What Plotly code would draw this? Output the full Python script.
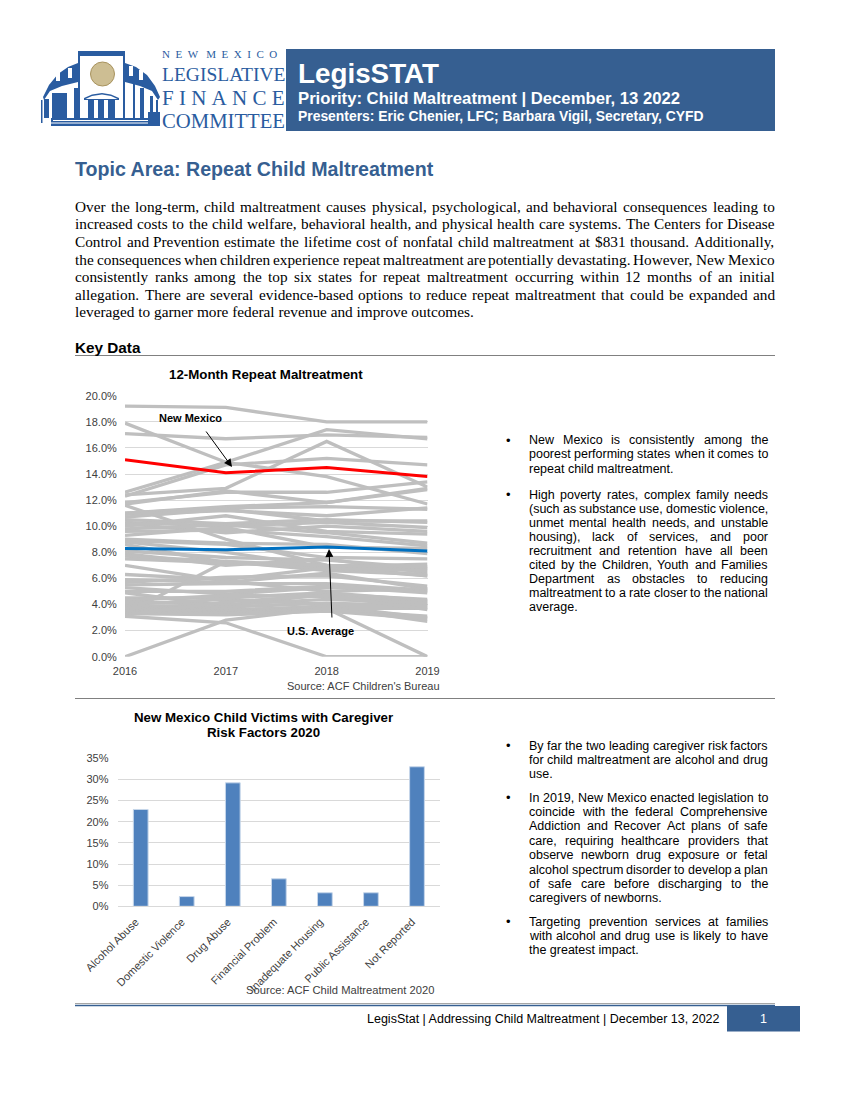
import plotly.graph_objects as go

W, H = 850, 1100
SANS = "Liberation Sans"
SERIF = "Liberation Serif"
BLUE = "#365F91"

# ---------- chart data ----------
YEARS = [2016, 2017, 2018, 2019]
NEW_MEXICO = [15.1, 14.1, 14.5, 13.8]
US_AVERAGE = [8.3, 8.2, 8.4, 8.1]
OTHER_2016 = [19.2, 17.9, 17.1, 12.6, 12.3, 12.4, 11.8, 11.7, 11.6, 11.0, 11.0, 10.9, 10.7, 10.5, 10.3, 10.2, 10.0, 9.8, 9.6, 9.3,
              9.0, 8.9, 8.8, 8.6, 8.1, 7.9, 7.7, 7.5, 7.0, 6.3, 5.9, 5.7, 5.5, 5.3, 5.0, 4.9, 4.5, 4.3, 4.2, 4.0,
              3.9, 3.8, 3.7, 3.6, 3.5, 3.4, 3.3, 3.3, 3.2, 3.1, 0.0]
OTHER_2017 = [19.1, 14.9, 16.7, 14.9, 14.7, 12.9, 12.6, 12.7, 9.0, 11.5, 11.4, 11.2, 11.3, 10.2, 10.0, 9.5, 10.8, 10.1, 9.7, 9.9,
              8.7, 8.6, 8.0, 7.2, 7.6, 7.0, 7.3, 7.2, 5.8, 5.9, 5.7, 6.1, 5.6, 4.8, 5.0, 3.9, 4.5, 4.7, 4.0, 4.4,
              3.8, 3.6, 3.5, 3.4, 3.3, 3.3, 3.2, 7.3, 4.2, 2.6, 2.8]
OTHER_2018 = [18.0, 13.8, 17.0, 17.4, 15.2, 16.5, 12.6, 11.8, 7.0, 11.8, 11.5, 10.8, 10.4, 10.5, 10.3, 10.0, 9.6, 9.5, 9.2, 8.4,
              8.6, 7.6, 6.9, 7.0, 7.4, 7.5, 6.6, 6.8, 5.0, 6.8, 6.4, 6.2, 5.6, 5.3, 5.4, 4.8, 4.9, 4.6, 4.4, 4.0,
              4.1, 3.8, 3.9, 3.7, 3.8, 3.6, 3.5, 7.0, 4.7, 0.0, 3.7]
OTHER_2019 = [18.0, 11.7, 16.8, 16.7, 14.7, 13.0, 13.4, 12.9, 6.2, 12.8, 11.3, 11.4, 10.4, 10.3, 9.9, 9.6, 9.4, 8.7, 8.5, 8.3,
              7.9, 7.5, 7.1, 6.7, 6.8, 6.4, 6.3, 6.2, 5.2, 6.6, 5.2, 5.4, 5.1, 5.0, 4.9, 4.4, 4.3, 4.2, 4.1, 4.0,
              3.9, 3.8, 3.0, 3.7, 2.7, 3.1, 2.9, 6.9, 3.6, 0.0, 0.0]
RISK_FACTORS = ["Alcohol Abuse", "Domestic Violence", "Drug Abuse", "Financial Problem",
                "Inadequate Housing", "Public Assistance", "Not Reported"]
RISK_VALUES = [22.9, 2.3, 29.2, 6.5, 3.2, 3.2, 33.0]

# ---------- page text ----------
BODY_LINES = [
    "Over the long-term, child maltreatment causes physical, psychological, and behavioral consequences leading to",
    "increased costs to the child welfare, behavioral health, and physical health care systems. The Centers for Disease",
    "Control and Prevention estimate the lifetime cost of nonfatal child maltreatment at $831 thousand. Additionally,",
    "the consequences when children experience repeat maltreatment are potentially devastating. However, New Mexico",
    "consistently ranks among the top six states for repeat maltreatment occurring within 12 months of an initial",
    "allegation. There are several evidence-based options to reduce repeat maltreatment that could be expanded and",
]
BODY_LAST = "leveraged to garner more federal revenue and improve outcomes."
BULLETS = [
    (440, 14.3, ["New Mexico is consistently among the", "poorest performing states when it comes to", "repeat child maltreatment."]),
    (495, 14.0, ["High poverty rates, complex family needs", "(such as substance use, domestic violence,",
           "unmet mental health needs, and unstable", "housing), lack of services, and poor",
           "recruitment and retention have all been", "cited by the Children, Youth and Families",
           "Department as obstacles to reducing", "maltreatment to a rate closer to the national", "average."]),
    (745.5, 14.0, ["By far the two leading caregiver risk factors", "for child maltreatment are alcohol and drug", "use."]),
    (797.5, 14.4, ["In 2019, New Mexico enacted legislation to", "coincide with the federal Comprehensive",
             "Addiction and Recover Act plans of safe", "care, requiring healthcare providers that",
             "observe newborn drug exposure or fetal", "alcohol spectrum disorder to develop a plan",
             "of safe care before discharging to the", "caregivers of newborns."]),
    (921.5, 14.4, ["Targeting prevention services at families", "with alcohol and drug use is likely to have", "the greatest impact."]),
]

# font metrics (per 1000 em) used to justify lines
_H = dict(zip("ABCDEFGHIJKLMNOPQRSTUVWXYZabcdefghijklmnopqrstuvwxyz",
    [667,667,722,722,667,611,778,722,278,500,667,556,833,722,778,667,778,722,667,611,722,667,944,667,667,611,
     556,556,500,556,556,278,556,556,222,222,500,222,833,556,556,556,556,333,500,278,556,500,722,500,500,500]))
_H.update({",":278,".":278,"-":333,"(":333,")":333,":":278,"$":556,"|":260})
_H.update({d:556 for d in "0123456789"})
_T = dict(zip("ABCDEFGHIJKLMNOPQRSTUVWXYZabcdefghijklmnopqrstuvwxyz",
    [722,667,667,722,611,556,722,722,333,389,722,611,889,722,722,556,722,667,556,611,722,722,944,722,722,611,
     444,500,444,500,444,333,500,500,278,278,500,278,778,500,500,500,500,333,389,278,500,500,722,500,500,444]))
_T.update({",":250,".":250,"-":333,"(":333,")":333,":":278,"$":500})
_T.update({d:500 for d in "0123456789"})

def width(word, size, table):
    return sum(table.get(c, 500) for c in word) * size / 1000

anns, shapes = [], []

def px(x): return x / W
def py(y): return 1 - y / H

def text(x, y, s, size, color="black", family=SANS, bold=False, anchor="left"):
    anns.append(dict(x=px(x), y=py(y), xref="paper", yref="paper", text=f"<b>{s}</b>" if bold else s,
                     showarrow=False, xanchor=anchor, yanchor="middle", borderpad=0, borderwidth=0,
                     font=dict(family=family, size=size, color=color)))

def justified(x0, x1, y, line, size, family, table):
    words = line.split(" ")
    total = sum(width(w, size, table) for w in words)
    gap = (x1 - x0 - total) / (len(words) - 1)
    x = x0
    for w in words:
        text(x, y, w, size, family=family)
        x += width(w, size, table) + gap

def rect(x0, y0, x1, y1, fill, line=None):
    shapes.append(dict(type="rect", xref="paper", yref="paper", x0=px(x0), x1=px(x1), y0=py(y0), y1=py(y1),
                       fillcolor=fill, line=dict(width=0 if line is None else 1, color=line or fill), layer="above"))

def hline(x0, x1, y, color, w=1):
    shapes.append(dict(type="line", xref="paper", yref="paper", x0=px(x0), x1=px(x1), y0=py(y), y1=py(y),
                       line=dict(color=color, width=w)))

def poly(points, fill):
    d = "M " + " L ".join(f"{px(a):.5f},{py(b):.5f}" for a, b in points) + " Z"
    shapes.append(dict(type="path", xref="paper", yref="paper", path=d, fillcolor=fill, line=dict(width=0), layer="above"))

# ---------- header ----------
rect(286, 49, 775, 131, BLUE)
text(298, 73.5, "LegisSTAT", 27.8, "white", bold=True)
text(298, 99, "Priority: Child Maltreatment | December, 13 2022", 16.7, "white", bold=True)
text(298, 116, "Presenters: Eric Chenier, LFC; Barbara Vigil, Secretary, CYFD", 13.9, "white", bold=True)

# logo
LOGO = "#2A5CA0"
# left wing
poly([(43,97),(49,85),(58,74),(68,67),(78,63),(78,82),(62,86),(50,91),(44,100)], LOGO)
rect(56, 71, 60, 81, "white"); rect(68, 68, 72, 78, "white")
rect(52, 93, 67, 118, LOGO)
rect(44, 99, 49, 118, LOGO)
rect(74, 88, 78, 118, LOGO)
rect(41, 100, 42.5, 123, LOGO)
# right wing
poly([(160,97),(155,86),(147,75),(136,67),(125,63),(125,82),(140,86),(152,91),(158,100)], LOGO)
rect(129, 66, 133, 76, "white"); rect(139, 70, 143, 80, "white")
rect(133, 84, 135, 118, LOGO); rect(140, 88, 144, 118, LOGO)
rect(150, 96, 153, 112, LOGO); rect(156, 100, 158, 112, LOGO)
rect(148, 112, 160, 126, LOGO)
# tower
rect(78, 51, 125, 118, LOGO)
rect(80, 56, 123, 118, "white")
shapes.append(dict(type="circle", xref="paper", yref="paper", x0=px(90.5), x1=px(114.5), y0=py(62), y1=py(86),
                   fillcolor="#CDBE93", line=dict(width=1, color="#A8935E"), layer="above"))
poly([(84,98),(92,94.5),(102,93),(111,94.5),(119,98),(119,100),(84,100)], LOGO)
poly([(85.5,99),(92,96),(102,94.5),(111,96),(117.5,99)], "white")
rect(88, 100, 94, 118, LOGO); rect(98, 100, 104, 118, LOGO); rect(108, 100, 115, 118, LOGO)
# steps
rect(51, 118, 148, 126, LOGO)
hline(53, 148, 120.5, "white"); hline(51, 148, 123, "white")
text(162, 54, "N&#160;&#160;E&#160;&#160;W&#160;&#160;&#160;M&#160;&#160;E&#160;&#160;X&#160;&#160;I&#160;&#160;C&#160;&#160;O", 11, LOGO, family=SERIF)
text(162, 75, "LEGISLATIVE", 19.5, LOGO, family=SERIF)
text(162, 98, "F&#160;I&#160;N&#160;A&#160;N&#160;C&#160;E", 21, LOGO, family=SERIF)
text(162, 121, "COMMITTEE", 20.7, LOGO, family=SERIF)

# ---------- intro ----------
text(75, 169, "Topic Area: Repeat Child Maltreatment", 19.6, BLUE, bold=True)
for i, line in enumerate(BODY_LINES):
    justified(75, 775, 206.5 + i * 17.5, line, 15.3, SERIF, _T)
text(75, 206.5 + 6 * 17.5, BODY_LAST, 15.3, family=SERIF)
text(75, 347, "Key Data", 15.3, bold=True)
hline(75, 775, 355.5, "#808080")
hline(75, 775, 698.5, "#808080")
hline(75, 775, 1003.5, "#A6A6A6")
hline(75, 775, 1005.5, BLUE, 1.5)

# ---------- bullets ----------
for y0, step, lines in BULLETS:
    text(506, y0, "\u2022", 13, anchor="left")
    for i, line in enumerate(lines):
        y = y0 + i * step
        if i == len(lines) - 1:
            text(529, y, line, 12.5)
        else:
            justified(529, 768, y, line, 12.5, SANS, _H)

# ---------- footer ----------
text(720, 1019, "LegisStat | Addressing Child Maltreatment | December 13, 2022", 12.5, anchor="right")
rect(727, 1006, 800, 1031.5, BLUE)
text(763, 1019, "1", 12.5, "white", anchor="center")

# ---------- chart titles, sources, arrows ----------
text(266, 374.5, "12-Month Repeat Maltreatment", 13.3, bold=True, anchor="center")
text(190, 418, "New Mexico", 11, bold=True, anchor="center")
text(320, 631, "U.S. Average", 11, bold=True, anchor="center")
text(439.5, 686, "Source: ACF Children's Bureau", 11, "#404040", anchor="right")
text(263.5, 717, "New Mexico Child Victims with Caregiver", 13.3, bold=True, anchor="center")
text(263.5, 732.5, "Risk Factors 2020", 13.3, bold=True, anchor="center")
text(434, 990, "Source: ACF Child Maltreatment 2020", 11.2, "#404040", anchor="right")

for (tx, ty, ox, oy) in [(232, 467, 205, 430), (329, 549, 332, 619)]:
    anns.append(dict(x=px(tx), y=py(ty), xref="paper", yref="paper", text="", showarrow=True,
                     ax=ox - tx, ay=oy - ty, axref="pixel", ayref="pixel",
                     arrowhead=2, arrowsize=1.6, arrowwidth=1, arrowcolor="black"))

# ---------- traces ----------
fig = go.Figure()
for a, b, c, d in zip(OTHER_2016, OTHER_2017, OTHER_2018, OTHER_2019):
    fig.add_trace(go.Scatter(x=YEARS, y=[a, b, c, d], mode="lines", cliponaxis=False, hoverinfo="skip",
                             line=dict(color="#BFBFBF", width=3.3), showlegend=False))
fig.add_trace(go.Scatter(x=YEARS, y=NEW_MEXICO, mode="lines", cliponaxis=False,
                         line=dict(color="#FF0000", width=3), showlegend=False))
fig.add_trace(go.Scatter(x=YEARS, y=US_AVERAGE, mode="lines", cliponaxis=False,
                         line=dict(color="#0070C0", width=3), showlegend=False))
fig.add_trace(go.Bar(x=RISK_FACTORS, y=RISK_VALUES, xaxis="x2", yaxis="y2", width=0.32, showlegend=False,
                     marker=dict(color="#4F81BD", line=dict(color="#C6D6EA", width=1))))

tick = dict(family=SANS, size=11, color="#404040")
CLEAR = "rgba(0,0,0,0)"
fig.update_layout(
    width=W, height=H, margin=dict(l=0, r=0, t=0, b=0, autoexpand=False), paper_bgcolor="white", plot_bgcolor="white",
    annotations=anns, shapes=shapes, showlegend=False,
    xaxis=dict(domain=[px(125), px(427.5)], range=[2016, 2019], tickvals=YEARS, ticktext=[str(y) for y in YEARS],
               showgrid=False, zeroline=False, showline=False, ticks="outside", ticklen=4, tickcolor=CLEAR,
               tickfont=tick, anchor="y", automargin=False),
    yaxis=dict(domain=[py(656.7), py(395.7)], range=[0, 20], tickvals=list(range(0, 21, 2)),
               ticktext=[f"{v}.0%" for v in range(0, 21, 2)], gridcolor="#D9D9D9", gridwidth=1, zeroline=False,
               showline=False, ticks="outside", ticklen=5, tickcolor=CLEAR, tickfont=tick, anchor="x", automargin=False),
    xaxis2=dict(domain=[px(117.7), px(440)], categoryorder="array", categoryarray=RISK_FACTORS, tickangle=-45,
                showgrid=False, zeroline=False, showline=True, linecolor="#D9D9D9", ticks="outside", ticklen=4,
                tickcolor=CLEAR, ticklabelshift=-5, tickfont=tick, anchor="y2", automargin=False),
    yaxis2=dict(domain=[py(906.3), py(758.3)], range=[0, 35], tickvals=list(range(0, 36, 5)),
                ticktext=[f"{v}%" for v in range(0, 36, 5)], gridcolor="#D9D9D9", gridwidth=1, zeroline=False,
                showline=False, ticks="outside", ticklen=6, tickcolor=CLEAR, tickfont=tick, anchor="x2", automargin=False),
)
fig.write_html("out.html", config={"displayModeBar": False},
               post_script="document.body.style.margin='0';document.documentElement.style.overflow='hidden';")
